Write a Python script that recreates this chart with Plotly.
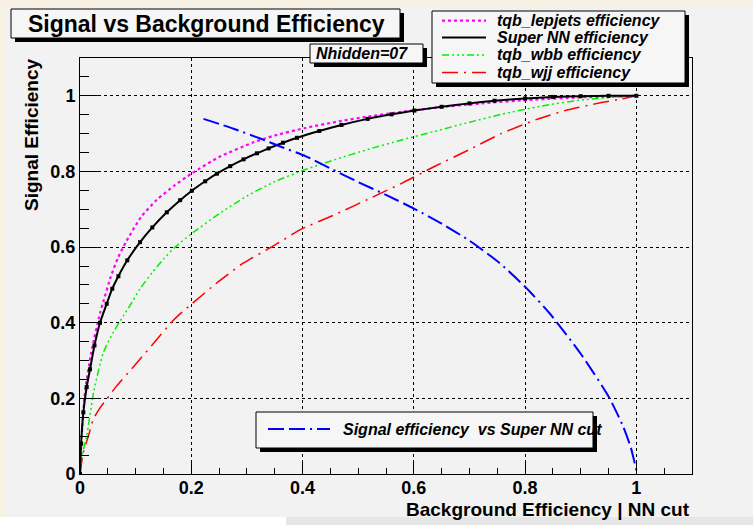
import plotly.graph_objects as go

# ---- data ----
nn_x = [0, 0.002, 0.006, 0.012, 0.018, 0.026, 0.036, 0.048, 0.058, 0.069, 0.085, 0.108, 0.13, 0.156,
        0.18, 0.201, 0.225, 0.246, 0.27, 0.294, 0.318, 0.339, 0.365, 0.39, 0.43, 0.47, 0.517, 0.56,
        0.601, 0.65, 0.70, 0.745, 0.80, 0.85, 0.90, 0.95, 1.0]
nn_y = [0, 0.08, 0.163, 0.23, 0.277, 0.34, 0.40, 0.45, 0.49, 0.523, 0.565, 0.613, 0.652, 0.692,
        0.724, 0.749, 0.774, 0.794, 0.814, 0.832, 0.848, 0.861, 0.876, 0.889, 0.907, 0.923, 0.939, 0.951,
        0.961, 0.971, 0.980, 0.987, 0.993, 0.997, 0.999, 1.0, 1.0]

lep_x = [0, 0.003, 0.009, 0.02, 0.036, 0.042, 0.055, 0.069, 0.084, 0.11, 0.138, 0.17, 0.201, 0.25,
         0.312, 0.35, 0.405, 0.46, 0.517, 0.58, 0.637, 0.72, 0.817, 0.9, 1.0]
lep_y = [0, 0.10, 0.216, 0.32, 0.425, 0.456, 0.52, 0.574, 0.617, 0.68, 0.725, 0.763, 0.795, 0.838,
         0.877, 0.895, 0.915, 0.931, 0.945, 0.958, 0.968, 0.980, 0.990, 0.996, 1.0]

wbb_x = [0, 0.004, 0.012, 0.025, 0.042, 0.06, 0.078, 0.09, 0.108, 0.13, 0.15, 0.171, 0.201, 0.25,
         0.30, 0.35, 0.405, 0.46, 0.517, 0.58, 0.637, 0.70, 0.757, 0.83, 0.907, 1.0]
wbb_y = [0, 0.05, 0.101, 0.22, 0.321, 0.375, 0.418, 0.446, 0.49, 0.533, 0.568, 0.600, 0.636, 0.688,
         0.735, 0.773, 0.805, 0.832, 0.858, 0.884, 0.906, 0.930, 0.951, 0.973, 0.990, 1.0]

wjj_x = [0, 0.006, 0.015, 0.024, 0.036, 0.048, 0.066, 0.10, 0.144, 0.17, 0.201, 0.25, 0.294, 0.35,
         0.396, 0.46, 0.517, 0.58, 0.637, 0.70, 0.757, 0.82, 0.877, 0.93, 0.967, 1.0]
wjj_y = [0, 0.057, 0.10, 0.145, 0.175, 0.198, 0.233, 0.29, 0.366, 0.41, 0.450, 0.51, 0.558, 0.605,
         0.646, 0.687, 0.726, 0.770, 0.813, 0.858, 0.900, 0.937, 0.963, 0.980, 0.990, 1.0]

cut_x = [0.222, 0.276, 0.324, 0.360, 0.406, 0.454, 0.50, 0.55, 0.60, 0.65, 0.70, 0.754, 0.80, 0.844,
         0.90, 0.95, 0.975, 0.99, 1.0]
cut_y = [0.939, 0.913, 0.887, 0.866, 0.840, 0.805, 0.772, 0.738, 0.702, 0.662, 0.617, 0.558, 0.495, 0.425,
         0.318, 0.205, 0.13, 0.07, 0.01]

tick_vals = [0, 0.2, 0.4, 0.6, 0.8, 1]
tick_text = ["0", "0.2", "0.4", "0.6", "0.8", "1"]

title_text = "Signal vs Background Efficiency"
x_title = "Background Efficiency | NN cut"
y_title = "Signal Efficiency"
legend_names = ["tqb_lepjets efficiency", "Super NN efficiency", "tqb_wbb efficiency", "tqb_wjj efficiency"]
legend2_name = "Signal efficiency\u00a0 vs Super NN cut"
nhidden_text = "Nhidden=07"

# ---- layout geometry (pixels) ----
W, H = 753, 525
L, R, T, B = 80, 692, 58, 474
FONT = "Liberation Sans, Arial, Helvetica, sans-serif"

def fx(x):
    return (x - L) / (R - L)

def fy(y):
    return (B - y) / (B - T)

DASH_LEP = "3px,3px"
DASH_WBB = "7px,3px,2px,3px,2px,3px,2px,3px"
DASH_WJJ = "16px,6px,2px,6px"
DASH_CUT = "16px,5px,16px,5px,2px,5px"

fig = go.Figure()
fig.add_trace(go.Scatter(x=wjj_x, y=wjj_y, mode="lines", line=dict(color="#ff0000", width=1.5, dash=DASH_WJJ, shape="spline", smoothing=0.6), showlegend=False))
fig.add_trace(go.Scatter(x=wbb_x, y=wbb_y, mode="lines", line=dict(color="#00f000", width=1.5, dash=DASH_WBB, shape="spline", smoothing=0.6), showlegend=False))
fig.add_trace(go.Scatter(x=lep_x, y=lep_y, mode="lines", line=dict(color="#ff00ff", width=2.2, dash=DASH_LEP, shape="spline", smoothing=0.6), showlegend=False))
fig.add_trace(go.Scatter(x=nn_x, y=nn_y, mode="lines+markers", line=dict(color="black", width=2, shape="spline", smoothing=0.6),
                         marker=dict(symbol="square", size=4, color="black"), showlegend=False))
fig.add_trace(go.Scatter(x=cut_x, y=cut_y, mode="lines", line=dict(color="#0000ff", width=2, dash=DASH_CUT, shape="spline", smoothing=0.6), showlegend=False))

shapes = []
# pad background regions
shapes.append(dict(type="rect", xref="paper", yref="paper", x0=fx(5), x1=fx(W), y0=fy(517), y1=fy(7),
                   fillcolor="#f2f2f2", line=dict(width=0), layer="below"))
shapes.append(dict(type="rect", xref="paper", yref="paper", x0=fx(0), x1=fx(286), y0=fy(H), y1=fy(517),
                   fillcolor="#ffffff", line=dict(width=0), layer="below"))
shapes.append(dict(type="rect", xref="paper", yref="paper", x0=fx(286), x1=fx(W), y0=fy(H), y1=fy(517),
                   fillcolor="#e6e6e6", line=dict(width=0), layer="below"))

def box(x0, y0, x1, y1, sh=4):
    shapes.append(dict(type="rect", xref="paper", yref="paper", x0=fx(x0 + sh), x1=fx(x1 + sh),
                       y0=fy(y1 + sh), y1=fy(y0 + sh), fillcolor="black", line=dict(width=0), layer="above"))
    shapes.append(dict(type="rect", xref="paper", yref="paper", x0=fx(x0), x1=fx(x1),
                       y0=fy(y1), y1=fy(y0), fillcolor="#f6f6f6", line=dict(color="black", width=1), layer="above"))

box(11, 9, 400, 38)          # title
box(310, 44, 423, 63)        # Nhidden
box(432, 11, 685, 83)        # top legend
box(256, 412, 593, 448)      # bottom legend

def sample(x0, x1, y, color, dash, width):
    shapes.append(dict(type="line", xref="paper", yref="paper", x0=fx(x0), x1=fx(x1), y0=fy(y), y1=fy(y),
                       line=dict(color=color, width=width, dash=dash), layer="above"))

rows = [20.7, 37.5, 55, 72.5]
sample(442, 486, rows[0], "#ff00ff", DASH_LEP, 2.2)
sample(442, 486, rows[1], "black", "solid", 2)
sample(442, 486, rows[2], "#00f000", DASH_WBB, 1.5)
sample(442, 486, rows[3], "#ff0000", DASH_WJJ, 1.5)
sample(268, 330, 429, "#0000ff", DASH_CUT, 2)

annotations = []
annotations.append(dict(text="<b>" + title_text + "</b>", x=fx(206), y=fy(24), xref="paper", yref="paper",
                        xanchor="center", yanchor="middle", showarrow=False, font=dict(family=FONT, size=23, color="black")))
annotations.append(dict(text="<b><i>" + nhidden_text + "</i></b>", x=fx(314), y=fy(53.5), xref="paper", yref="paper",
                        xanchor="left", yanchor="middle", showarrow=False, font=dict(family=FONT, size=16, color="black")))
for name, yy in zip(legend_names, rows):
    annotations.append(dict(text="<b><i>" + name + "</i></b>", x=fx(495), y=fy(yy), xref="paper", yref="paper",
                            xanchor="left", yanchor="middle", showarrow=False, font=dict(family=FONT, size=16, color="black")))
annotations.append(dict(text="<b><i>" + legend2_name + "</i></b>", x=fx(341), y=fy(429), xref="paper", yref="paper",
                        xanchor="left", yanchor="middle", showarrow=False, font=dict(family=FONT, size=16, color="black")))
annotations.append(dict(text="<b>" + x_title + "</b>", x=fx(692), y=fy(509), xref="paper", yref="paper",
                        xanchor="right", yanchor="middle", showarrow=False, font=dict(family=FONT, size=19, color="black")))
annotations.append(dict(text="<b>" + y_title + "</b>", x=fx(32), y=fy(57), xref="paper", yref="paper",
                        xanchor="center", yanchor="top", textangle=-90, showarrow=False, font=dict(family=FONT, size=19, color="black")))

axis_common = dict(
    tickmode="array", tickvals=tick_vals, ticktext=tick_text,
    ticks="inside", tickcolor="black", tickwidth=1,
    showline=True, linecolor="black", linewidth=1, mirror=True,
    showgrid=True, gridcolor="black", gridwidth=1, griddash="dot",
    zeroline=False, range=[0, 1.1],
    tickfont=dict(family=FONT, size=18, color="black", weight="bold"),
)
fig.update_xaxes(**axis_common, ticklen=12, ticklabelstandoff=-3,
                 minor=dict(dtick=0.05, tick0=0, ticks="inside", ticklen=6, tickcolor="black", showgrid=False))
fig.update_yaxes(**axis_common, ticklen=18,
                 minor=dict(dtick=0.05, tick0=0, ticks="inside", ticklen=9, tickcolor="black", showgrid=False))

fig.update_layout(
    width=W, height=H,
    margin=dict(l=L, r=W - R, t=T, b=H - B, pad=0),
    paper_bgcolor="#f6f1e2", plot_bgcolor="#f2f2f2",
    shapes=shapes, annotations=annotations, showlegend=False,
    font=dict(family=FONT, color="black"),
)
fig.write_html("out.html", config={"displayModeBar": False},
               post_script="document.body.style.margin='0';document.body.style.overflow='hidden';")
